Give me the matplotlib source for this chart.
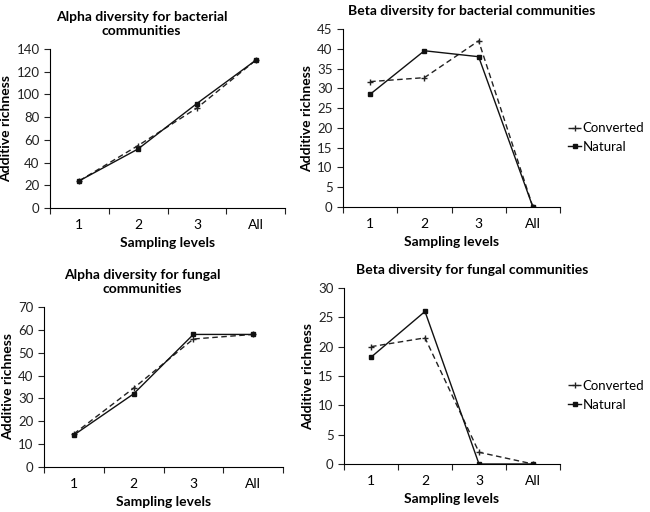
import matplotlib.pyplot as plt
from matplotlib.ticker import FixedLocator, NullFormatter, FixedFormatter

plt.rcParams['font.family'] = ['Lato', 'DejaVu Sans']

levels = ['1', '2', '3', 'All']

alpha_bact_conv = [24, 55, 88, 130]
alpha_bact_nat = [24, 52, 92, 130]
beta_bact_conv = [31.7, 32.7, 42, 0]
beta_bact_nat = [28.5, 39.5, 38, 0]
alpha_fung_conv = [14.5, 34.5, 56, 58]
alpha_fung_nat = [14, 32, 58, 58]
beta_fung_conv = [20, 21.5, 2, 0]
beta_fung_nat = [18.2, 26, 0, 0]

W, H = 650, 512
fig = plt.figure(figsize=(W / 100, H / 100), dpi=100)


def make_ax(l, r, t, b):
    return fig.add_axes([l / W, 1 - b / H, (r - l) / W, (b - t) / H])


def draw(ax, conv, nat, ymax, ystep, title, tx, legend=False):
    x = range(len(levels))
    ax.plot(x, conv, ls=(0, (4, 2.5)), color='#222222', lw=1, marker='+', ms=4,
            mew=1, label='Converted')
    ax.plot(x, nat, ls='-', color='#111111', lw=1, marker='s', ms=3.5,
            label='Natural')
    ax.set_xlim(-0.5, 3.5)
    ax.set_ylim(0, ymax)
    ax.set_yticks(range(0, ymax + 1, ystep))
    ax.xaxis.set_major_locator(FixedLocator([-0.5, 0.5, 1.5, 2.5, 3.5]))
    ax.xaxis.set_major_formatter(NullFormatter())
    ax.xaxis.set_minor_locator(FixedLocator([0, 1, 2, 3]))
    ax.xaxis.set_minor_formatter(FixedFormatter(levels))
    ax.tick_params(axis='x', which='minor', length=0, pad=8)
    ax.tick_params(axis='x', which='major', length=4, direction='out')
    ax.tick_params(axis='y', length=4, direction='out')
    ax.tick_params(labelsize=9.5, colors='#222222')
    ax.spines['top'].set_visible(False)
    ax.spines['right'].set_visible(False)
    ax.set_xlabel('Sampling levels', fontsize=10, fontweight='bold', labelpad=4)
    ax.set_ylabel('Additive richness', fontsize=10, fontweight='bold', labelpad=3)
    ax.set_title(title, fontsize=10, fontweight='bold', pad=10, x=tx)
    if legend:
        ax.legend(loc='center left', bbox_to_anchor=(1.0, 0.39), frameon=False,
                  fontsize=9.5, handlelength=1.0, handletextpad=0.1,
                  labelspacing=0.5, borderaxespad=0.2)


ax1 = make_ax(50, 285, 49, 208)
draw(ax1, alpha_bact_conv, alpha_bact_nat, 140, 20,
     'Alpha diversity for bacterial\ncommunities', 0.39)
ax2 = make_ax(343, 560, 29, 207)
draw(ax2, beta_bact_conv, beta_bact_nat, 45, 5,
     'Beta diversity for bacterial communities', 0.594, legend=True)
ax3 = make_ax(44, 283, 307, 467)
draw(ax3, alpha_fung_conv, alpha_fung_nat, 70, 10,
     'Alpha diversity for fungal\ncommunities', 0.41)
ax4 = make_ax(344, 560, 288, 464)
draw(ax4, beta_fung_conv, beta_fung_nat, 30, 5,
     'Beta diversity for fungal communities', 0.593, legend=True)

fig.savefig('out.png', dpi=100)
